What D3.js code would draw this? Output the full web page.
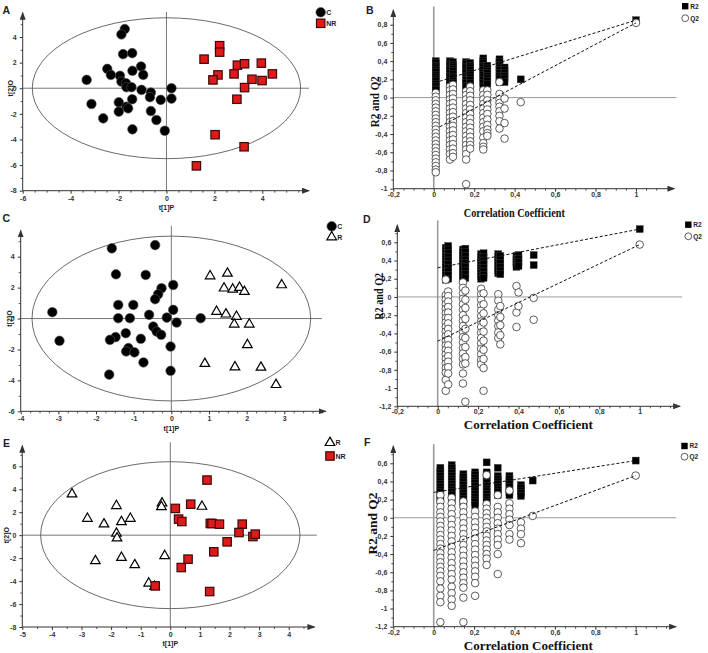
<!DOCTYPE html>
<html>
<head>
<meta charset="utf-8">
<script src="https://cdn.jsdelivr.net/npm/d3@7"></script>
<style>
body { margin: 0; background: #fff; }
svg { display: block; }
.tick text { font-family: "Liberation Sans", Arial, sans-serif; font-weight: bold; font-size: 7px; fill: #333; }
.lbl { font-family: "Liberation Sans", Arial, sans-serif; font-weight: bold; fill: #222; }
.serif { font-family: "Liberation Serif", "Times New Roman", serif; font-weight: bold; fill: #111; }
</style>
</head>
<body>
<div id="fig"></div>
<script>
// ---- score plots (t[1]P, t[2]O) ----
var aC = [[-1.74,4.62],[-1.88,4.2],[-1.81,2.66],[-1.43,2.74],[-2.47,1.51],[-2.32,1.04],[-1.94,0.97],[-1.42,1.36],
	[-1.06,1.70],[-0.97,1.04],[-3.33,0.65],[-1.88,0.52],[-1.69,0.39],[-1.67,0.08],[-1.46,0.08],[-1.04,-0.13],
	[-0.65,-0.34],[-0.69,-0.70],[0.21,0],[0.21,-0.81],[-0.24,-0.91],[-1.43,-0.86],[-1.99,-1.10],[-1.67,-1.44],
	[-3.13,-1.23],[-1.99,-1.83],[-1.60,-1.57],[-0.65,-1.78],[-2.64,-2.35],[-0.42,-2.48],[-1.42,-3.21],[-0.07,-3.32]];
var aNR = [[2.22,3.32],[2.22,2.82],[1.57,2.27],[2.96,1.80],[3.26,1.91],[3.96,1.96],[2.15,1.04],[1.94,0.65],
	[2.82,1.12],[3.57,0.70],[3.99,0.60],[4.42,1.12],[3.26,0.05],[2.94,-0.86],[2.03,-3.63],[3.24,-4.57],[1.25,-6.06]];

var cC = [[-1.58,4.54],[-0.43,4.75],[-1.47,2.86],[-0.68,2.82],[-0.26,1.96],[-0.35,1.57],[-0.43,1.25],[0.05,2.17],
	[-1.41,0.88],[-1.01,0.88],[0.05,0.56],[-3.16,0.41],[-1.41,0.02],[-1.10,0.02],[-0.59,0.24],[-0.12,0.06],
	[0.14,-0.26],[0.78,0.02],[-0.48,-0.52],[-0.39,-0.84],[-0.27,-1.05],[-1.21,-0.95],[-1.48,-1.2],[-1.63,-1.38],
	[-2.97,-1.44],[-0.81,-1.31],[-0.02,-1.81],[-1.14,-1.91],[-1.20,-2.13],[-0.98,-2.19],[-0.74,-2.84],[-0.02,-3.38],[-1.65,-3.63]];
var cR = [[1.03,2.75],[1.49,2.92],[1.40,1.96],[1.63,1.89],[1.81,2.0],[1.94,1.74],[2.93,2.17],[1.20,0.45],
	[1.45,0.28],[1.73,0.13],[1.67,-0.37],[2.07,-0.37],[2.02,-1.70],[0.89,-2.92],[1.69,-3.14],[2.38,-3.16],[2.78,-4.28]];

var eR = [[-3.32,3.58],[-1.82,2.56],[-2.80,1.45],[-2.24,0.96],[-1.65,1.16],[-1.35,1.45],[-1.82,0.15],[-1.80,-0.26],
	[-2.53,-2.24],[-1.65,-1.95],[-1.20,-2.59],[-0.28,2.79],[-0.30,2.47],[-0.19,-1.80],[1.07,2.50],[-0.73,-4.19],[-0.53,-4.48]];
var eNR = [[1.24,4.80],[0.17,2.33],[0.69,2.70],[0.28,1.40],[0.39,1.19],[1.35,1.02],[1.41,1.02],[1.66,0.96],
	[2.43,0.96],[2.32,0.23],[2.79,-0.12],[2.87,0.09],[1.92,-0.58],[1.47,-1.45],[0.60,-2.09],[0.37,-2.82],[-0.51,-4.42],[1.33,-4.91]];

// ---- permutation plots (correlation, R2 / Q2) ----
var bCols = [0.01, 0.08, 0.095, 0.16, 0.18, 0.245, 0.265, 0.325, 0.35, 0.43];
var bR2 = [
	[0.40,0.38,0.35,0.33,0.30,0.28,0.25,0.23,0.20,0.18,0.15,0.13,0.10,0.08],
	[0.40,0.37,0.35,0.32,0.30,0.27,0.24,0.22,0.19,0.17,0.14,0.12,0.10],
	[0.39,0.36,0.34,0.31,0.29,0.26,0.23,0.21,0.18,0.16,0.13,0.10],
	[0.39,0.37,0.34,0.32,0.29,0.27,0.24,0.21,0.19,0.16,0.13,0.10],
	[0.38,0.35,0.33,0.30,0.27,0.25,0.22,0.19,0.16,0.13,0.10],
	[0.43,0.40,0.38,0.35,0.33,0.30,0.27,0.25,0.22,0.19,0.16,0.12],
	[0.35,0.32,0.29,0.27,0.24,0.21,0.18,0.15],
	[0.42,0.39,0.36,0.33,0.30,0.27,0.24,0.21,0.17],
	[0.33,0.30,0.27,0.24,0.21,0.17],
	[0.20]
];
var bQ2 = [
	[0.05,0.01,-0.03,-0.07,-0.11,-0.15,-0.19,-0.23,-0.27,-0.31,-0.35,-0.39,-0.43,-0.47,-0.51,-0.55,-0.59,-0.63,-0.67,-0.71,-0.75,-0.79,-0.82],
	[0.12,0.08,0.03,-0.02,-0.07,-0.12,-0.17,-0.22,-0.27,-0.32,-0.37,-0.42,-0.47,-0.52,-0.57,-0.62,-0.68],
	[0.14,0.09,0.04,-0.01,-0.06,-0.11,-0.16,-0.21,-0.26,-0.31,-0.36,-0.41,-0.46,-0.51,-0.56,-0.61,-0.65],
	[0.07,0.03,-0.02,-0.07,-0.12,-0.17,-0.22,-0.27,-0.32,-0.37,-0.42,-0.47,-0.52,-0.57,-0.62,-0.68,-0.95],
	[0.12,0.07,0.02,-0.03,-0.08,-0.13,-0.18,-0.23,-0.28,-0.33,-0.38,-0.43,-0.48,-0.52,-0.56],
	[0.08,0.03,-0.02,-0.07,-0.12,-0.17,-0.22,-0.27,-0.32,-0.37,-0.44,-0.50,-0.54,-0.57],
	[0.08,0.03,-0.03,-0.08,-0.13,-0.18,-0.24,-0.30,-0.35,-0.39,-0.42],
	[0.17,0.04,-0.02,-0.06,-0.10,-0.15,-0.20,-0.26,-0.34],
	[-0.01,-0.12,-0.28,-0.45],
	[-0.05]
];
var bOrig = [0.85, 0.82];
var bR2Line = [[0.03, 0.18], [1, 0.85]];
var bQ2Line = [[0.03, -0.32], [1, 0.82]];

var dCols = [0.04, 0.052, 0.125, 0.137, 0.215, 0.227, 0.30, 0.31, 0.39, 0.40, 0.475];
var dR2 = [
	[0.54,0.51,0.48,0.45,0.42,0.39,0.36,0.33,0.30,0.27,0.24,0.21,0.19],
	[0.56,0.52,0.48,0.44,0.40,0.36,0.32,0.28,0.24,0.20],
	[0.52,0.49,0.46,0.43,0.40,0.37,0.34,0.31,0.28,0.25,0.22,0.19],
	[0.53,0.49,0.45,0.41,0.37,0.33,0.29,0.25,0.21],
	[0.47,0.44,0.41,0.38,0.35,0.32,0.29,0.26,0.23,0.20],
	[0.48,0.44,0.40,0.36,0.32,0.28,0.24,0.21],
	[0.47,0.44,0.41,0.38,0.35,0.32,0.29,0.26],
	[0.45,0.41,0.37,0.33,0.29,0.25],
	[0.45,0.42,0.39,0.36,0.33],
	[0.46,0.42,0.38,0.34],
	[0.46,0.35]
];
var dQ2 = [
	[0.19,0.02,-0.03,-0.08,-0.13,-0.18,-0.23,-0.28,-0.33,-0.38,-0.43,-0.48,-0.53,-0.58,-0.63,-0.68,-0.73,-0.78,-0.83,-0.91,-1.03],
	[0.06,0.01,-0.05,-0.11,-0.17,-0.23,-0.29,-0.35,-0.41,-0.47,-0.53,-0.59,-0.65,-0.71,-0.77,-0.84,-0.96],
	[0.16,0.10,0.04,-0.02,-0.08,-0.14,-0.20,-0.26,-0.32,-0.38,-0.44,-0.50,-0.56,-0.62,-0.68,-0.74,-0.84,-0.95],
	[0.07,-0.03,-0.12,-0.24,-0.35,-0.45,-0.55,-0.66,-0.73,-1.15],
	[0.09,0.03,-0.03,-0.09,-0.15,-0.21,-0.27,-0.33,-0.39,-0.45,-0.51,-0.57,-0.63,-0.69,-0.74],
	[0.04,-0.08,-0.18,-0.28,-0.38,-0.48,-0.58,-0.68,-0.78,-1.03],
	[0.03,-0.04,-0.14,-0.20,-0.26,-0.32,-0.39,-0.45],
	[-0.10,-0.22,-0.31,-0.42,-0.52],
	[0.12,-0.17,-0.33],
	[0.05,-0.10],
	[-0.01,-0.25]
];
var dOrig = [0.745, 0.575];
var dR2Line = [[0, 0.32], [1, 0.745]];
var dQ2Line = [[0, -0.485], [1, 0.575]];

var fCols = [0.033, 0.089, 0.147, 0.205, 0.262, 0.317, 0.375, 0.432, 0.49];
var fR2 = [
	[0.55,0.52,0.49,0.46,0.43,0.40,0.37,0.34,0.31,0.28,0.25,0.22,0.19],
	[0.58,0.55,0.52,0.49,0.46,0.43,0.40,0.37,0.34,0.31,0.28,0.25,0.22,0.19],
	[0.48,0.45,0.42,0.39,0.36,0.33,0.30,0.27,0.24,0.21,0.18,0.15],
	[0.50,0.47,0.44,0.41,0.38,0.35,0.32,0.29,0.26,0.23,0.20,0.17,0.14],
	[0.61,0.50,0.47,0.44,0.41,0.38,0.35,0.32,0.29,0.26,0.23,0.20,0.17],
	[0.55,0.46,0.43,0.40,0.37,0.34,0.31,0.28,0.25],
	[0.46,0.43,0.40,0.37,0.34,0.31,0.28,0.25],
	[0.36,0.33,0.30,0.27,0.24],
	[0.41]
];
var fQ2 = [
	[0.25,0.18,0.12,0.06,0.01,-0.04,-0.09,-0.14,-0.19,-0.24,-0.29,-0.34,-0.39,-0.44,-0.49,-0.54,-0.59,-0.64,-0.70,-0.78,-0.86,-0.93,-1.15],
	[0.22,0.16,0.10,0.04,-0.02,-0.08,-0.14,-0.20,-0.26,-0.32,-0.38,-0.44,-0.50,-0.56,-0.62,-0.68,-0.76,-0.83,-0.90,-0.97],
	[0.18,0.12,0.06,0.0,-0.06,-0.12,-0.18,-0.24,-0.30,-0.36,-0.42,-0.48,-0.54,-0.60,-0.66,-0.72,-0.77,-0.88,-1.15],
	[0.07,0.01,-0.05,-0.11,-0.17,-0.23,-0.29,-0.35,-0.41,-0.47,-0.53,-0.59,-0.65,-0.72,-0.86],
	[0.47,0.15,0.10,0.05,0.0,-0.05,-0.10,-0.15,-0.20,-0.25,-0.30,-0.35,-0.40,-0.45,-0.52],
	[0.25,0.12,0.06,0.0,-0.06,-0.12,-0.18,-0.24,-0.30,-0.40,-0.62],
	[0.30,0.16,0.10,0.04,-0.02,-0.08,-0.18,-0.24],
	[-0.05,-0.12,-0.18,-0.28],
	[0.02]
];
var fOrig = [0.63, 0.465];
var fR2Line = [[0, 0.28], [1, 0.63]];
var fQ2Line = [[0, -0.36], [1, 0.465]];

var permXTicks = [-0.2, 0, 0.2, 0.4, 0.6, 0.8, 1];

var svg = d3.select("#fig").append("svg").attr("width", 708).attr("height", 653);

svg.append("defs").append("marker")
	.attr("id", "arrow")
	.attr("viewBox", "0 0 8 6")
	.attr("markerUnits", "userSpaceOnUse")
	.attr("markerWidth", 8).attr("markerHeight", 6)
	.attr("refX", 7).attr("refY", 3)
	.attr("orient", "auto")
	.append("path").attr("d", "M0,0L8,3L0,6Z").attr("fill", "#333");

var fmt = function(d) { return String(d).replace(".", ","); };

function minorTicks(lo, hi, step, majors) {
	return d3.range(lo, hi + 1e-9, step).filter(function(v) {
		return !majors.some(function(m) { return Math.abs(m - v) < 1e-6; });
	});
}

function drawAxes(g, x, y, p) {
	var y0 = y(p.yDom[0]), x0 = x(p.xDom[0]);
	g.append("g").attr("transform", "translate(0," + y0 + ")").attr("color", "#333")
		.call(d3.axisBottom(x).tickValues(p.xTicks).tickSize(3).tickPadding(p.xPad).tickFormat(fmt))
		.call(function(a) { a.select(".domain").remove(); });
	g.append("g").attr("transform", "translate(0," + y0 + ")").attr("color", "#555")
		.call(d3.axisBottom(x).tickValues(minorTicks(p.xDom[0], p.xEnd - 0.05, p.xMinor, p.xTicks)).tickSize(2).tickFormat(""))
		.call(function(a) { a.select(".domain").remove(); });
	g.append("g").attr("transform", "translate(" + x0 + ",0)").attr("color", "#333")
		.call(d3.axisLeft(y).tickValues(p.yTicks).tickSize(3).tickPadding(3).tickFormat(fmt))
		.call(function(a) { a.select(".domain").remove(); });
	g.append("g").attr("transform", "translate(" + x0 + ",0)").attr("color", "#555")
		.call(d3.axisLeft(y).tickValues(minorTicks(p.yDom[0], p.yEnd - 0.05, p.yMinor, p.yTicks)).tickSize(2).tickFormat(""))
		.call(function(a) { a.select(".domain").remove(); });
	g.append("line").attr("x1", x0).attr("x2", x(p.xEnd)).attr("y1", y0).attr("y2", y0)
		.attr("stroke", "#333").attr("stroke-width", 1).attr("marker-end", "url(#arrow)");
	g.append("line").attr("x1", x0).attr("x2", x0).attr("y1", y0).attr("y2", y(p.yEnd))
		.attr("stroke", "#333").attr("stroke-width", 1).attr("marker-end", "url(#arrow)");
}

function addMarker(g, kind, cx, cy) {
	if (kind == "circle") {
		g.append("circle").attr("cx", cx).attr("cy", cy).attr("r", 4.8)
			.attr("fill", "#000").attr("stroke", "#555").attr("stroke-width", 0.6);
	} else if (kind == "square") {
		g.append("rect").attr("x", cx - 4.2).attr("y", cy - 4.2).attr("width", 8.4).attr("height", 8.4)
			.attr("fill", "#e01a1a").attr("stroke", "#3a0a0a").attr("stroke-width", 1.2);
	} else {
		g.append("path").attr("transform", "translate(" + cx + "," + cy + ")")
			.attr("d", d3.symbol(d3.symbolTriangle, 40)())
			.attr("fill", "#fff").attr("stroke", "#000").attr("stroke-width", 1.2);
	}
}

function drawScatter(p) {
	var x = d3.scaleLinear().domain(p.xDom).range(p.xRange);
	var y = d3.scaleLinear().domain(p.yDom).range(p.yRange);
	var g = svg.append("g");

	g.append("ellipse").attr("cx", x(0)).attr("cy", y(0))
		.attr("rx", x(p.ell[0]) - x(0)).attr("ry", y(0) - y(p.ell[1]))
		.attr("fill", "none").attr("stroke", "#444").attr("stroke-width", 0.8);
	g.append("line").attr("x1", x(p.xDom[0])).attr("x2", x(p.hEnd)).attr("y1", y(0)).attr("y2", y(0))
		.attr("stroke", "#555").attr("stroke-width", 0.8);
	g.append("line").attr("x1", x(0)).attr("x2", x(0)).attr("y1", y(p.yDom[0])).attr("y2", y(p.vEnd))
		.attr("stroke", "#555").attr("stroke-width", 0.8);

	drawAxes(g, x, y, p);

	p.series.forEach(function(s) {
		s.data.forEach(function(d) { addMarker(g, s.kind, x(d[0]), y(d[1])); });
	});

	g.append("text").attr("class", "lbl").attr("font-size", 7).attr("text-anchor", "middle")
		.attr("x", x(0)).attr("y", p.xLabY).text("t[1]P");
	g.append("text").attr("class", "lbl").attr("font-size", 7).attr("text-anchor", "middle")
		.attr("transform", "translate(" + p.yLabX + "," + y(0) + ") rotate(-90)").text("t[2]O");
	g.append("text").attr("class", "lbl").attr("font-size", 10.5)
		.attr("x", p.letter[1]).attr("y", p.letter[2]).text(p.letter[0]);

	p.series.forEach(function(s, i) {
		var lx = p.legend[0], ly = p.legend[1] + i * p.legend[2];
		addMarker(g, s.kind, lx, ly);
		g.append("text").attr("class", "lbl").attr("font-size", 7)
			.attr("x", lx + 5.5).attr("y", ly + 2.5).text(s.name);
	});
}

function drawPerm(p) {
	var x = d3.scaleLinear().domain(p.xDom).range(p.xRange);
	var y = d3.scaleLinear().domain(p.yDom).range(p.yRange);
	var g = svg.append("g");

	g.append("line").attr("x1", x(0)).attr("x2", x(0)).attr("y1", y(p.yDom[0])).attr("y2", y(p.vEnd))
		.attr("stroke", "#9a9a9a").attr("stroke-width", 1.6);
	g.append("line").attr("x1", x(p.xDom[0])).attr("x2", x(p.hEnd)).attr("y1", y(0)).attr("y2", y(0))
		.attr("stroke", "#9a9a9a").attr("stroke-width", 1);

	drawAxes(g, x, y, p);

	var sq = 7, rad = 3.8;
	p.cols.forEach(function(c, i) {
		p.r2[i].forEach(function(v) {
			g.append("rect").attr("x", x(c) - sq / 2).attr("y", y(v) - sq / 2).attr("width", sq).attr("height", sq)
				.attr("fill", "#000").attr("stroke", "#444").attr("stroke-width", 0.4);
		});
	});
	g.append("rect").attr("x", x(1) - sq / 2).attr("y", y(p.orig[0]) - sq / 2).attr("width", sq).attr("height", sq)
		.attr("fill", "#000").attr("stroke", "#444").attr("stroke-width", 0.4);
	p.cols.forEach(function(c, i) {
		p.q2[i].forEach(function(v) {
			g.append("circle").attr("cx", x(c)).attr("cy", y(v)).attr("r", rad)
				.attr("fill", "#fff").attr("stroke", "#333").attr("stroke-width", 0.8);
		});
	});
	g.append("circle").attr("cx", x(1)).attr("cy", y(p.orig[1])).attr("r", rad)
		.attr("fill", "#fff").attr("stroke", "#333").attr("stroke-width", 0.8);

	var line = d3.line().x(function(d) { return x(d[0]); }).y(function(d) { return y(d[1]); });
	[p.r2Line, p.q2Line].forEach(function(l) {
		g.append("path").attr("d", line(l)).attr("fill", "none")
			.attr("stroke", "#111").attr("stroke-width", 1).attr("stroke-dasharray", "3,2");
	});

	g.append("text").attr("class", "serif").attr("font-size", 13.5).attr("text-anchor", "middle")
		.attr("x", p.xLab[0]).attr("y", p.xLab[1])
		.attr("textLength", p.xLab[2]).attr("lengthAdjust", "spacingAndGlyphs")
		.text("Correlation Coefficient");
	g.append("text").attr("class", "serif").attr("font-size", 12).attr("text-anchor", "middle")
		.attr("transform", "translate(" + p.yLab[0] + "," + p.yLab[1] + ") rotate(-90)")
		.attr("textLength", p.yLab[2]).attr("lengthAdjust", "spacingAndGlyphs")
		.text("R2 and Q2");
	g.append("text").attr("class", "lbl").attr("font-size", 10.5)
		.attr("x", p.letter[1]).attr("y", p.letter[2]).text(p.letter[0]);

	var lx = p.legend[0], ly = p.legend[1];
	g.append("rect").attr("x", lx - 3.2).attr("y", ly - 3.2).attr("width", 6.4).attr("height", 6.4).attr("fill", "#000");
	g.append("text").attr("class", "lbl").attr("font-size", 6.5).attr("x", lx + 5).attr("y", ly + 2.3).text("R2");
	g.append("circle").attr("cx", lx).attr("cy", ly + p.legend[2]).attr("r", 3.4)
		.attr("fill", "#fff").attr("stroke", "#333").attr("stroke-width", 0.8);
	g.append("text").attr("class", "lbl").attr("font-size", 6.5).attr("x", lx + 5).attr("y", ly + p.legend[2] + 2.3).text("Q2");
}

drawScatter({
	xDom: [-6, 4], xRange: [22.7, 262.3], yDom: [-8, 4], yRange: [190.7, 37],
	xEnd: 5.95, yEnd: 5.9, hEnd: 5.95, vEnd: 5.95, ell: [5.6, 5.5], xPad: 2,
	xTicks: [-6, -4, -2, 0, 2, 4], yTicks: [-8, -6, -4, -2, 0, 2, 4], xMinor: 0.5, yMinor: 1,
	series: [{name: "C", kind: "circle", data: aC}, {name: "NR", kind: "square", data: aNR}],
	xLabY: 210, yLabX: 13, letter: ["A", 2.5, 13.5], legend: [320.7, 12.3, 11]
});
drawScatter({
	xDom: [-4, 3], xRange: [20.7, 284.3], yDom: [-6, 4], yRange: [411.3, 256.7],
	xEnd: 4.1, yEnd: 5.7, hEnd: 4.0, vEnd: 6.0, ell: [3.7, 5.33], xPad: 2,
	xTicks: [-4, -3, -2, -1, 0, 1, 2, 3], yTicks: [-6, -4, -2, 0, 2, 4], xMinor: 0.25, yMinor: 1,
	series: [{name: "C", kind: "circle", data: cC}, {name: "R", kind: "triangle", data: cR}],
	xLabY: 430.5, yLabX: 12, letter: ["C", 2.5, 222], legend: [331.7, 226.3, 10.7]
});
drawScatter({
	xDom: [-5, 4], xRange: [22.3, 288.7], yDom: [-8, 6], yRange: [627, 466.3],
	xEnd: 4.87, yEnd: 7.8, hEnd: 4.95, vEnd: 8.1, ell: [4.38, 6.4], xPad: 2,
	xTicks: [-5, -4, -3, -2, -1, 0, 1, 2, 3, 4], yTicks: [-8, -6, -4, -2, 0, 2, 4, 6], xMinor: 0.5, yMinor: 1,
	series: [{name: "R", kind: "triangle", data: eR}, {name: "NR", kind: "square", data: eNR}],
	xLabY: 646, yLabX: 9, letter: ["E", 3, 447], legend: [330, 442.7, 13.3]
});

drawPerm({
	xDom: [-0.2, 1], xRange: [393.3, 636], yDom: [-1, 0.8], yRange: [188.7, 24.7],
	xEnd: 1.19, yEnd: 0.96, hEnd: 1.2, vEnd: 1.0, xPad: 0,
	xTicks: permXTicks, yTicks: [-1, -0.8, -0.6, -0.4, -0.2, 0, 0.2, 0.4, 0.6, 0.8], xMinor: 0.05, yMinor: 0.1,
	cols: bCols, r2: bR2, q2: bQ2, orig: bOrig, r2Line: bR2Line, q2Line: bQ2Line,
	xLab: [514.3, 216.5, 101], yLab: [379, 101.7, 51], letter: ["B", 366, 13.5], legend: [685.2, 6.2, 12]
});
drawPerm({
	xDom: [-0.2, 1], xRange: [397.3, 639.7], yDom: [-1.2, 0.6], yRange: [406.3, 242.3],
	xEnd: 1.2, yEnd: 0.79, hEnd: 1.21, vEnd: 0.84, xPad: 0,
	xTicks: permXTicks, yTicks: [-1.2, -1, -0.8, -0.6, -0.4, -0.2, 0, 0.2, 0.4, 0.6], xMinor: 0.05, yMinor: 0.1,
	cols: dCols, r2: dR2, q2: dQ2, orig: dOrig, r2Line: dR2Line, q2Line: dQ2Line,
	xLab: [528.3, 428.5, 129], yLab: [383, 296.3, 47], letter: ["D", 363, 222.5], legend: [688.3, 224.7, 11.6]
});
drawPerm({
	xDom: [-0.2, 1], xRange: [393.3, 635.7], yDom: [-1.2, 0.6], yRange: [626.7, 463.3],
	xEnd: 1.2, yEnd: 0.79, hEnd: 1.2, vEnd: 0.81, xPad: 0,
	xTicks: permXTicks, yTicks: [-1.2, -1, -0.8, -0.6, -0.4, -0.2, 0, 0.2, 0.4, 0.6], xMinor: 0.05, yMinor: 0.1,
	cols: fCols, r2: fR2, q2: fQ2, orig: fOrig, r2Line: fR2Line, q2Line: fQ2Line,
	xLab: [528.3, 649.5, 129], yLab: [377, 523.5, 62], letter: ["F", 364, 446], legend: [684.5, 446, 10.7]
});
</script>
</body>
</html>
